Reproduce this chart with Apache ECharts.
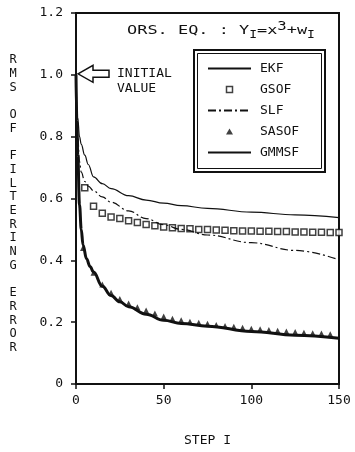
<!DOCTYPE html>
<html>
<head>
<meta charset="utf-8">
<script src="https://cdn.jsdelivr.net/npm/echarts@6/dist/echarts.min.js"></script>
<style>
  html, body { margin: 0; padding: 0; background: #fff; }
  #chart { width: 355px; height: 452px; }
</style>
</head>
<body>
<div id="chart"></div>
<script>
// tick labels
const yTickLabels = ['0', '0.2', '0.4', '0.6', '0.8', '1.0', '1.2'];
const xTickLabels = ['0', '50', '100', '150'];

// EKF (thin solid)
const ekfSteps = [0, 1, 2, 3, 5, 7, 10, 15, 20, 30, 40, 50, 60, 75, 100, 125, 150];
const ekfRms = [1.0, 0.86, 0.8, 0.775, 0.74, 0.71, 0.67, 0.648, 0.632, 0.609, 0.595, 0.585, 0.577, 0.568, 0.556, 0.547, 0.538];

// SLF (dash-dot)
const slfSteps = [0, 1, 2, 3, 5, 7, 10, 15, 20, 30, 40, 50, 60, 75, 100, 125, 150];
const slfRms = [1.0, 0.8, 0.72, 0.685, 0.655, 0.64, 0.625, 0.605, 0.588, 0.56, 0.535, 0.515, 0.5, 0.482, 0.457, 0.432, 0.402];

// GMMSF (thick solid)
const gmmsfSteps = [0, 0.5, 1, 2, 3, 4, 6, 8, 10, 15, 20, 25, 30, 40, 50, 60, 75, 100, 125, 150];
const gmmsfRms = [1.0, 0.85, 0.74, 0.58, 0.5, 0.45, 0.405, 0.38, 0.362, 0.316, 0.286, 0.266, 0.25, 0.226, 0.206, 0.196, 0.187, 0.17, 0.158, 0.148];

// GSOF (squares)
const gsofSteps = [5, 10, 15, 20, 25, 30, 35, 40, 45, 50, 55, 60, 65, 70, 75, 80, 85, 90, 95, 100, 105, 110, 115, 120, 125, 130, 135, 140, 145, 150];
const gsofRms = [0.635, 0.575, 0.552, 0.54, 0.535, 0.528, 0.522, 0.516, 0.512, 0.508, 0.505, 0.503, 0.502, 0.5, 0.5, 0.498, 0.497, 0.496, 0.495, 0.495, 0.494, 0.494, 0.493, 0.493, 0.492, 0.492, 0.491, 0.491, 0.49, 0.49];

// SASOF (triangles)
const sasofSteps = [4, 10, 15, 20, 25, 30, 35, 40, 45, 50, 55, 60, 65, 70, 75, 80, 85, 90, 95, 100, 105, 110, 115, 120, 125, 130, 135, 140, 145];
const sasofRms = [0.44, 0.36, 0.322, 0.295, 0.275, 0.26, 0.248, 0.238, 0.228, 0.218, 0.211, 0.206, 0.201, 0.198, 0.195, 0.191, 0.188, 0.185, 0.182, 0.179, 0.177, 0.175, 0.172, 0.17, 0.168, 0.166, 0.164, 0.163, 0.161];

const yTitleLetters = ['R', 'M', 'S', '', 'O', 'F', '', 'F', 'I', 'L', 'T', 'E', 'R', 'I', 'N', 'G', '', 'E', 'R', 'R', 'O', 'R'];

const FONT = 'DejaVu Sans Mono';
const INK = '#111';

const zip = (xs, ys) => xs.map((x, i) => [x, ys[i]]);

const chart = echarts.init(document.getElementById('chart'), null, { renderer: 'canvas' });

// line entries in the legend: hide the marker legend draws in the middle
const noMarker = { color: 'rgba(0,0,0,0)', borderWidth: 0, opacity: 0 };
// marker-only entries: small shape centred in a 43x7 box so it is not stretched
const legendSquare = 'path://M0 0M43 7M18.5 0.5H24.5V6.5H18.5Z';
const legendTriangle = 'path://M0 0M43 7M21.5 0.5L25 6.5H18Z';

const option = {
  animation: false,
  backgroundColor: '#fff',
  textStyle: { fontFamily: FONT, color: INK },
  grid: {
    left: 76, right: 16, top: 13, bottom: 59,
    show: true,
    borderColor: INK,
    borderWidth: 2,
  },
  xAxis: {
    type: 'value',
    min: 0,
    max: 150,
    interval: 50,
    name: 'STEP I',
    nameLocation: 'middle',
    nameGap: 50,
    nameTextStyle: { fontFamily: FONT, fontSize: 13, color: INK },
    axisLine: { lineStyle: { color: INK, width: 2 } },
    axisTick: { inside: false, length: 5, lineStyle: { color: INK, width: 1.5 } },
    axisLabel: {
      margin: 10,
      fontFamily: FONT,
      fontSize: 13,
      color: INK,
      formatter: (v) => xTickLabels[Math.round(v / 50)],
    },
    splitLine: { show: false },
  },
  yAxis: {
    type: 'value',
    min: 0,
    max: 1.2,
    interval: 0.2,
    axisLine: { show: true, lineStyle: { color: INK, width: 2 } },
    axisTick: { show: true, inside: false, length: 5, lineStyle: { color: INK, width: 1.5 } },
    axisLabel: {
      margin: 13,
      fontFamily: FONT,
      fontSize: 13,
      color: INK,
      formatter: (v) => yTickLabels[Math.round(v / 0.2)],
    },
    splitLine: { show: false },
  },
  legend: {
    left: 207,
    top: 62,
    orient: 'vertical',
    padding: 0,
    itemWidth: 43,
    itemHeight: 7,
    itemGap: 8,
    selectedMode: false,
    textStyle: { fontFamily: FONT, fontSize: 13, color: INK, padding: [0, 0, 0, 4] },
    data: [
      { name: 'EKF', itemStyle: noMarker },
      { name: 'GSOF', icon: legendSquare, itemStyle: { color: '#fff', borderColor: INK, borderWidth: 1.5 } },
      { name: 'SLF', itemStyle: noMarker },
      { name: 'SASOF', icon: legendTriangle, itemStyle: { color: INK, borderWidth: 0 } },
      { name: 'GMMSF', itemStyle: noMarker },
    ],
  },
  series: [
    {
      name: 'EKF',
      type: 'line',
      data: zip(ekfSteps, ekfRms),
      smooth: 0.4,
      smoothMonotone: 'x',
      symbol: 'none',
      clip: false,
      lineStyle: { color: INK, width: 1.2 },
      itemStyle: { color: INK },
    },
    {
      name: 'GSOF',
      type: 'scatter',
      data: zip(gsofSteps, gsofRms),
      symbol: 'rect',
      symbolSize: 6,
      itemStyle: { color: '#fff', borderColor: INK, borderWidth: 1.5 },
    },
    {
      name: 'SLF',
      type: 'line',
      data: zip(slfSteps, slfRms),
      smooth: 0.4,
      smoothMonotone: 'x',
      symbol: 'none',
      clip: false,
      lineStyle: { color: INK, width: 1.2, type: [8, 3, 2, 3] },
      itemStyle: { color: INK },
    },
    {
      name: 'SASOF',
      type: 'scatter',
      data: zip(sasofSteps, sasofRms),
      symbol: 'triangle',
      symbolSize: 6,
      itemStyle: { color: INK },
    },
    {
      name: 'GMMSF',
      type: 'line',
      data: zip(gmmsfSteps, gmmsfRms),
      smooth: 0.4,
      smoothMonotone: 'x',
      symbol: 'none',
      clip: false,
      lineStyle: { color: INK, width: 3 },
      itemStyle: { color: INK },
    },
  ],
};

chart.setOption(option);

// annotations positioned from the axis scale
const tip = chart.convertToPixel({ gridIndex: 0 }, [0, 1.0]);
const tx = tip[0] + 2;
const ty = tip[1] - 1;

chart.setOption({
  graphic: [
    // legend double frame
    { type: 'rect', shape: { x: 194, y: 50, width: 131, height: 122 }, style: { fill: null, stroke: INK, lineWidth: 2 }, z: 10 },
    { type: 'rect', shape: { x: 197.5, y: 53.5, width: 124, height: 115 }, style: { fill: null, stroke: INK, lineWidth: 1 }, z: 10 },
    // title
    {
      type: 'text',
      x: 221, y: 31,
      scaleX: 1.3,
      style: {
        text: 'ORS. EQ. : Y{s|I}=x{p|3}+w{s|I}',
        fontFamily: FONT, fontSize: 13, fill: INK,
        align: 'center', verticalAlign: 'middle',
        rich: {
          s: { fontFamily: FONT, fontSize: 10, padding: [8, 0, 0, 0] },
          p: { fontFamily: FONT, fontSize: 12, padding: [0, 0, 8, 0] },
        },
      },
      z: 10,
    },
    // initial value arrow
    {
      type: 'polygon',
      shape: {
        points: [
          [tx, ty], [tx + 15, ty - 8.5], [tx + 15, ty - 3.5], [tx + 31, ty - 3.5],
          [tx + 31, ty + 3.5], [tx + 15, ty + 3.5], [tx + 15, ty + 8.5],
        ],
      },
      style: { fill: '#fff', stroke: INK, lineWidth: 1.5 },
      z: 10,
    },
    {
      type: 'text',
      x: 117, y: 66,
      style: { text: 'INITIAL\nVALUE', fontFamily: FONT, fontSize: 13, lineHeight: 15, fill: INK },
      z: 10,
    },
    // y axis title, stacked letters
    {
      type: 'text',
      x: 13, y: 204,
      style: {
        text: yTitleLetters.join('\n'),
        fontFamily: FONT, fontSize: 12, lineHeight: 13.7, fill: INK,
        align: 'center', verticalAlign: 'middle',
      },
      z: 10,
    },
  ],
});

window.addEventListener('resize', () => chart.resize());
</script>
</body>
</html>
